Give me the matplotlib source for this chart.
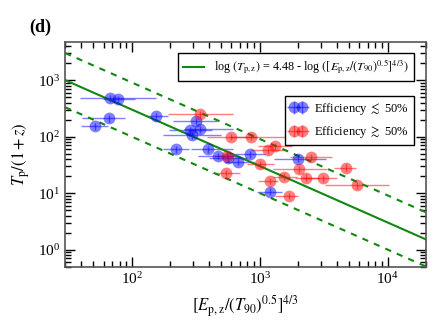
import numpy as np
import matplotlib
matplotlib.use("Agg")
import matplotlib.pyplot as plt

plt.rcParams['font.family'] = ['Liberation Serif', 'DejaVu Serif']
plt.rcParams['mathtext.fontset'] = 'stix'

# efficiency <= 50%
blue_x = [67, 78, 66, 51, 155, 220, 316, 284, 339, 293, 394, 473, 566, 680, 838, 1980, 1202]
blue_y = [487, 468, 216, 155, 234, 60, 192, 131, 135, 107, 60, 46, 42, 36, 49, 41, 10.7]
blue_xlo = [39, 59, 41, 40, 128, 175, 209, 195, 254, 175, 290, 330, 400, 530, 640, 1300, 946]
blue_xhi = [154, 105, 88, 65, 190, 280, 462, 420, 617, 500, 620, 680, 800, 900, 1100, 3300, 1486]

# efficiency >= 50%
red_x = [340, 592, 849, 1316, 1153, 550, 1000, 543, 1550, 2030, 2300, 2513, 3100, 4720, 5760, 1202, 1687]
red_y = [252, 100, 100, 69, 58, 46, 32.6, 23, 19.7, 27, 18.9, 43, 18.5, 28.4, 14, 16.6, 9.0]
red_xlo = [190, 383, 583, 973, 850, 440, 800, 424, 1276, 1270, 1900, 1726, 2140, 3775, 3245, 973, 1322]
red_xhi = [612, 946, 1888, 1780, 1600, 700, 1300, 700, 1945, 3350, 2900, 3660, 4000, 5690, 10190, 1396, 2005]

y_frac = 0.14  # small vertical error

fig = plt.figure(figsize=(4.43, 3.32), dpi=100)
ax = fig.add_axes([0.147, 0.197, 0.815, 0.677])


def draw(x, y, lo, hi, color, label):
    x = np.array(x)
    y = np.array(y)
    xerr = [x - np.array(lo), np.array(hi) - x]
    yerr = [y * y_frac, y * y_frac]
    return ax.errorbar(x, y, xerr=xerr, yerr=yerr, fmt='o', color=color,
                       ms=8.5, alpha=0.5, elinewidth=1, capsize=2, mew=0, label=label)


eb_b = draw(blue_x, blue_y, blue_xlo, blue_xhi, 'blue', r'Efficiency $\lesssim$ 50%')
eb_r = draw(red_x, red_y, red_xlo, red_xhi, 'red', r'Efficiency $\gtrsim$ 50%')

xx = np.array([30, 2e4])
green = '#118811'
ln, = ax.plot(xx, 10**4.48 / xx, color=green, lw=1.5,
              label=r'log $(T_{\rm p,z})$ = 4.48 - log $([E_{\rm p,z}/(T_{90})^{0.5}]^{4/3})$')
ax.plot(xx, 10**(4.48 + 0.48) / xx, color=green, lw=1.5, ls=(0, (3, 3)))
ax.plot(xx, 10**(4.48 - 0.48) / xx, color=green, lw=1.5, ls=(0, (3, 3)))

ax.set_xscale('log')
ax.set_yscale('log')
ax.set_xlim(30, 2e4)
ax.set_ylim(0.5, 4800)
ax.set_xlabel(r'$[E_{\rm p,z}/(T_{90})^{0.5}]^{4/3}$', fontsize=12)
ax.set_ylabel(r'$T_{\rm p}/(1+z)$', fontsize=12)
ax.tick_params(which='both', direction='in', top=True, right=True, labelsize=11)
ax.tick_params(which='major', length=7, width=1)
ax.tick_params(which='minor', length=4, width=1)
for s in ax.spines.values():
    s.set_color('#555555')
    s.set_linewidth(1.2)

leg1 = ax.legend(handles=[ln], loc='upper right', bbox_to_anchor=(0.965, 0.95),
                 fontsize=8.7, fancybox=False, edgecolor='black', framealpha=1,
                 borderaxespad=0, handlelength=1.8)
ax.add_artist(leg1)
ax.legend(handles=[eb_b, eb_r], loc='upper right', bbox_to_anchor=(0.965, 0.76),
          fontsize=9, fancybox=False, edgecolor='black', framealpha=1,
          borderaxespad=0, numpoints=2, handlelength=1.3, handletextpad=0.6,
          borderpad=0.4, labelspacing=0.6)

fig.text(0.065, 0.905, '(d)', fontsize=13, fontweight='bold')

fig.savefig('out.png', dpi=100)
